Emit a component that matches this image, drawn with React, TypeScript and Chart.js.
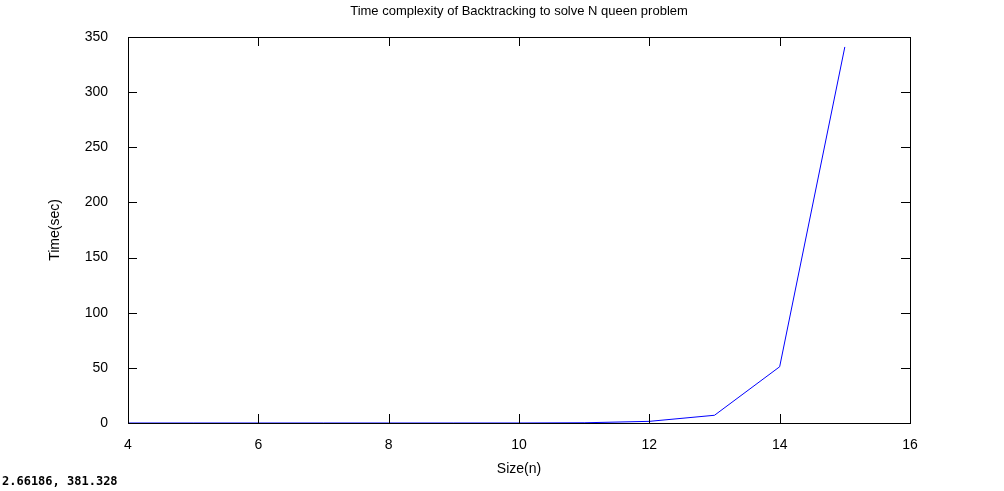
import React, { useEffect, useRef } from "react";
import { Chart, registerables } from "chart.js";
Chart.register(...registerables);

const sizes = [4, 5, 6, 7, 8, 9, 10, 11, 12, 13, 14, 15];
const times = [0, 0, 0, 0, 0, 0, 0.01, 0.2, 1.5, 7, 51, 341];
const xTicks = [4, 6, 8, 10, 12, 14, 16];
const yTicks = [0, 50, 100, 150, 200, 250, 300, 350];

const FONT = "'Liberation Sans', Arial, sans-serif";

const deco = {
  id: "deco",
  afterDraw(c: any) {
    const ctx = c.ctx;
    const a = c.chartArea;
    const xs = c.scales.x, ys = c.scales.y;
    ctx.save();
    ctx.strokeStyle = "#000";
    ctx.lineWidth = 1;
    ctx.strokeRect(Math.round(a.left) + 0.5, Math.round(a.top) + 0.5, Math.round(a.right - a.left), Math.round(a.bottom - a.top));
    ctx.beginPath();
    for (const v of xTicks) {
      const x = Math.round(xs.getPixelForValue(v)) + 0.5;
      ctx.moveTo(x, a.bottom); ctx.lineTo(x, a.bottom - 9);
      ctx.moveTo(x, a.top); ctx.lineTo(x, a.top + 9);
    }
    for (const v of yTicks) {
      const y = Math.round(ys.getPixelForValue(v)) + 0.5;
      ctx.moveTo(a.left, y); ctx.lineTo(a.left + 9, y);
      ctx.moveTo(a.right, y); ctx.lineTo(a.right - 9, y);
    }
    ctx.stroke();
    ctx.fillStyle = "#000";
    ctx.font = `13px ${FONT}`;
    ctx.textAlign = "center";
    ctx.textBaseline = "middle";
    ctx.fillText("Time complexity of Backtracking to solve N queen problem", 519, 11);
    ctx.font = `14px ${FONT}`;
    ctx.fillText("Size(n)", 519, 469);
    ctx.save();
    ctx.translate(55, 230);
    ctx.rotate(-Math.PI / 2);
    ctx.fillText("Time(sec)", 0, 0);
    ctx.restore();
    ctx.textAlign = "left";
    ctx.font = `bold 12px 'DejaVu Sans Mono', monospace`;
    ctx.fillText("2.66186, 381.328", 2, 482);
    ctx.restore();
  },
};

export default function App() {
  const ref = useRef<HTMLCanvasElement>(null);
  useEffect(() => {
    const chart = new Chart(ref.current!, {
      type: "line",
      data: {
        datasets: [{
          data: sizes.map((s, i) => ({ x: s, y: times[i] })),
          borderColor: "#0000ff",
          borderWidth: 1,
          pointRadius: 0,
          tension: 0,
        }],
      },
      options: {
        animation: false,
        responsive: false,
        layout: { padding: { top: 37, right: 94, left: 0, bottom: 0 } },
        plugins: { legend: { display: false }, tooltip: { enabled: false } },
        scales: {
          x: {
            type: "linear", min: 4, max: 16,
            afterBuildTicks: (s: any) => { s.ticks = xTicks.map((v) => ({ value: v })); },
            afterFit: (s: any) => { s.height = 68; },
            grid: { display: false },
            border: { display: false },
            ticks: { color: "#000", font: { family: FONT, size: 14 }, padding: 6, maxRotation: 0 },
          },
          y: {
            min: 0, max: 350,
            afterBuildTicks: (s: any) => { s.ticks = yTicks.map((v) => ({ value: v })); },
            afterFit: (s: any) => { s.width = 128; },
            grid: { display: false },
            border: { display: false },
            ticks: { color: "#000", font: { family: FONT, size: 14 }, padding: 12 },
          },
        },
      },
      plugins: [deco],
    });
    return () => chart.destroy();
  }, []);
  return (
    <div style={{ position: "fixed", left: 0, top: 0, width: 1004, height: 491, background: "#fff" }}>
      <canvas ref={ref} width={1004} height={491} />
    </div>
  );
}
